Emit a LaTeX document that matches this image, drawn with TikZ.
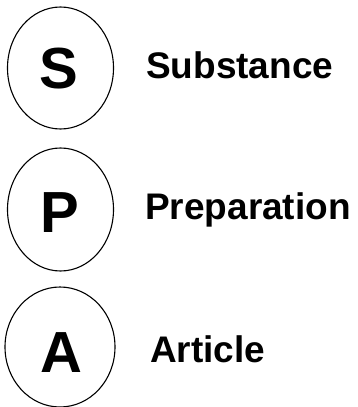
\documentclass[tikz,border=0pt]{standalone}
\usepackage{fontspec}
\setmainfont{Liberation Sans}
\usetikzlibrary{shapes.geometric}
\begin{document}
\begin{tikzpicture}[x=1pt,y=-1pt,
  circ/.style={draw=black,line width=1.1pt,ellipse,minimum width=106pt,minimum height=122pt,inner sep=0pt},
  letter/.style={font=\fontsize{58}{60}\selectfont\bfseries,anchor=base,inner sep=0pt},
  lab/.style={font=\fontsize{37}{40}\selectfont\bfseries,anchor=base west,inner sep=0pt}]
\useasboundingbox (0,0) rectangle (357,407);
\node[circ] (cs) at (60.5,68) {};
\node[circ,minimum height=123pt] (cp) at (60.5,209.5) {};
\node[circ,minimum width=110pt,minimum height=120pt] (ca) at (60,347) {};
\node[letter] (ls) at (59,88) {S};
\node[letter] (lp) at (60,232) {P};
\node[letter] (la) at (61,372) {A};
\node[lab] (ts) at (146,78) {Substance};
\node[lab] (tp) at (145,219) {Preparation};
\node[lab] (ta) at (150,362) {Article};
\end{tikzpicture}
\end{document}
